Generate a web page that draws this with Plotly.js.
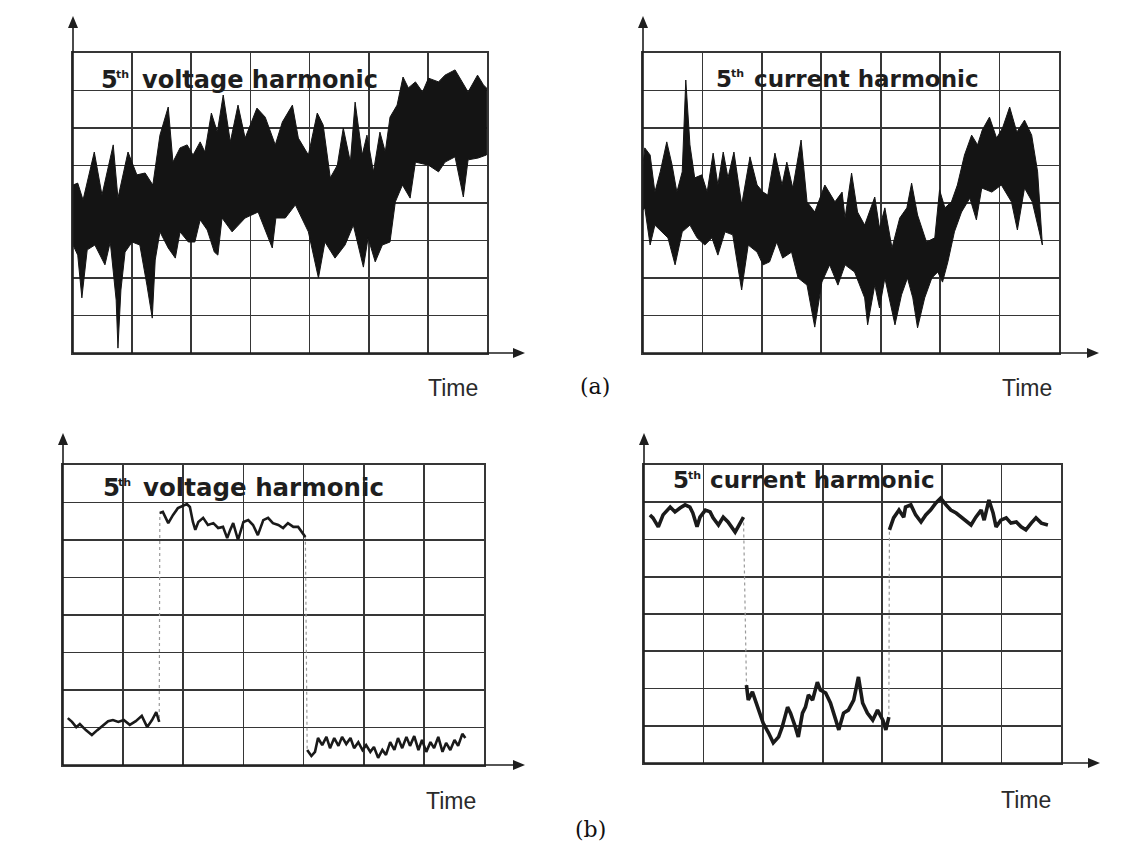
<!DOCTYPE html>
<html>
<head>
<meta charset="utf-8">
<script src="https://cdn.plot.ly/plotly-3.0.1.min.js"></script>
<style>
  html, body { margin: 0; padding: 0; background: #ffffff; }
  #chart { width: 1136px; height: 849px; }
</style>
</head>
<body>
<div id="chart"></div>
<script>
// ---------- DATA (grid units: time 0..7 divisions, amplitude 0..8 divisions) ----------
// (a) 5th voltage harmonic - envelope of the dense noisy record
const p1UpX = [0, 0.08, 0.17, 0.36, 0.49, 0.68, 0.76, 0.93, 1.08, 1.22, 1.35, 1.47, 1.61, 1.69, 1.81, 1.93, 2.03, 2.15, 2.23, 2.34, 2.44, 2.54, 2.66, 2.79, 2.91, 3.11, 3.25, 3.42, 3.54, 3.71, 3.81, 3.98, 4.13, 4.23, 4.35, 4.47, 4.57, 4.69, 4.77, 4.89, 4.97, 5.08, 5.19, 5.28, 5.36, 5.48, 5.58, 5.67, 5.79, 5.91, 6.01, 6.18, 6.29, 6.46, 6.58, 6.68, 6.84, 6.94, 6.99];
const p1UpY = [4.48, 4.53, 4.08, 5.36, 4.21, 5.55, 4.13, 5.36, 4.75, 4.8, 4.48, 5.81, 6.56, 5.09, 5.47, 5.55, 5.28, 5.63, 5.36, 6.4, 5.89, 6.88, 5.63, 6.61, 5.73, 6.53, 6.29, 5.55, 6.16, 6.61, 5.73, 5.28, 6.4, 6.08, 4.67, 5.01, 6.0, 5.09, 6.69, 5.28, 5.81, 4.83, 5.89, 5.36, 6.29, 6.61, 7.36, 7.07, 7.23, 6.96, 7.33, 7.23, 7.41, 7.55, 7.23, 6.96, 7.41, 7.15, 7.07];
const p1LoX = [0, 0.08, 0.15, 0.24, 0.37, 0.54, 0.63, 0.73, 0.76, 0.81, 0.88, 1.0, 1.13, 1.25, 1.34, 1.39, 1.47, 1.61, 1.73, 1.81, 1.95, 2.06, 2.15, 2.27, 2.39, 2.45, 2.52, 2.69, 2.91, 3.13, 3.37, 3.43, 3.59, 3.76, 3.98, 4.15, 4.26, 4.43, 4.6, 4.74, 4.91, 4.99, 5.11, 5.23, 5.36, 5.45, 5.57, 5.7, 5.79, 6.01, 6.18, 6.29, 6.46, 6.6, 6.68, 6.85, 6.99];
const p1LoY = [2.88, 2.61, 1.47, 2.75, 2.88, 2.35, 2.96, 1.41, 0.13, 1.68, 2.69, 2.96, 2.88, 1.81, 0.93, 2.48, 3.23, 2.8, 2.53, 3.23, 2.96, 2.96, 3.55, 3.28, 2.69, 2.61, 3.6, 3.23, 3.6, 3.76, 2.8, 3.6, 3.6, 3.95, 3.23, 2.0, 2.96, 2.53, 2.88, 3.41, 2.29, 3.07, 2.43, 2.88, 2.96, 4.03, 4.48, 4.13, 5.09, 5.01, 4.83, 5.09, 5.23, 4.16, 5.15, 5.2, 5.28];

// (a) 5th current harmonic - envelope
const p2UpX = [0, 0.03, 0.12, 0.2, 0.29, 0.4, 0.49, 0.57, 0.66, 0.72, 0.79, 0.87, 0.99, 1.08, 1.18, 1.26, 1.35, 1.43, 1.53, 1.66, 1.8, 1.92, 2.02, 2.1, 2.22, 2.34, 2.42, 2.52, 2.66, 2.76, 2.89, 3.06, 3.23, 3.35, 3.4, 3.51, 3.61, 3.73, 3.9, 3.98, 4.07, 4.19, 4.32, 4.44, 4.52, 4.62, 4.77, 4.91, 4.99, 5.08, 5.19, 5.29, 5.41, 5.53, 5.63, 5.71, 5.83, 5.95, 6.05, 6.17, 6.29, 6.42, 6.54, 6.64, 6.72];
const p2UpY = [5.01, 5.47, 5.28, 4.29, 4.83, 5.63, 5.01, 4.29, 4.83, 7.28, 5.55, 4.67, 4.75, 4.29, 5.33, 4.48, 5.36, 4.67, 5.36, 3.95, 5.23, 4.48, 4.29, 4.21, 5.33, 4.48, 5.09, 4.4, 5.68, 4.03, 3.76, 4.48, 4.03, 4.29, 3.6, 4.8, 3.76, 3.41, 4.16, 3.33, 3.87, 2.8, 3.6, 3.87, 4.53, 3.68, 2.96, 3.07, 4.35, 3.87, 4.03, 4.48, 5.28, 5.81, 5.55, 5.95, 6.29, 5.73, 6.0, 6.56, 5.89, 6.21, 5.81, 4.83, 2.88];
const p2LoX = [0, 0.03, 0.12, 0.2, 0.32, 0.42, 0.54, 0.66, 0.79, 0.91, 1.04, 1.16, 1.26, 1.38, 1.51, 1.66, 1.77, 1.92, 2.02, 2.13, 2.25, 2.35, 2.5, 2.61, 2.76, 2.89, 3.01, 3.14, 3.28, 3.4, 3.56, 3.73, 3.78, 3.9, 3.98, 4.07, 4.24, 4.35, 4.45, 4.54, 4.62, 4.74, 4.86, 4.96, 5.04, 5.13, 5.24, 5.36, 5.5, 5.61, 5.7, 5.87, 6.03, 6.2, 6.3, 6.42, 6.55, 6.67, 6.72];
const p2LoY = [3.81, 3.87, 2.88, 3.41, 3.23, 3.07, 2.35, 3.23, 3.41, 3.07, 2.88, 3.07, 2.61, 3.23, 3.15, 1.68, 2.88, 2.69, 2.35, 2.43, 2.96, 2.53, 2.69, 2.0, 1.81, 0.69, 1.89, 2.35, 1.81, 2.35, 2.16, 1.47, 0.75, 1.81, 1.2, 2.0, 0.75, 1.55, 2.0, 1.47, 0.67, 1.47, 2.0, 2.16, 1.89, 2.43, 3.23, 3.76, 4.13, 3.55, 4.4, 4.29, 4.48, 4.03, 3.28, 4.4, 4.03, 3.23, 2.88];

// (b) 5th voltage harmonic - step record
const p3X = [0.08, 0.15, 0.22, 0.28, 0.38, 0.48, 0.57, 0.67, 0.75, 0.83, 0.92, 1.01, 1.11, 1.21, 1.31, 1.40, 1.48, 1.55, 1.60,
             1.61, 1.66, 1.75, 1.83, 1.91, 2.06, 2.11, 2.16, 2.20, 2.25, 2.33, 2.41, 2.50, 2.58, 2.66, 2.73, 2.78, 2.83, 2.91, 3.00, 3.08, 3.16, 3.24, 3.33, 3.41, 3.49, 3.58, 3.66, 3.74, 3.83, 3.91, 3.98, 4.03,
             4.06, 4.13, 4.19, 4.24, 4.31, 4.38, 4.44, 4.51, 4.58, 4.64, 4.71, 4.78, 4.84, 4.91, 4.98, 5.04, 5.11, 5.17, 5.24, 5.31, 5.37, 5.44, 5.51, 5.57, 5.64, 5.71, 5.77, 5.84, 5.91, 5.97, 6.04, 6.11, 6.17, 6.24, 6.31, 6.37, 6.44, 6.51, 6.57, 6.64, 6.69];
const p3Y = [1.25, 1.15, 1.01, 1.09, 0.93, 0.80, 0.93, 1.07, 1.17, 1.20, 1.15, 1.20, 1.07, 1.17, 1.31, 1.01, 1.20, 1.41, 1.15,
             6.72, 6.75, 6.45, 6.67, 6.85, 6.96, 6.88, 6.48, 6.27, 6.48, 6.59, 6.40, 6.45, 6.32, 6.35, 6.05, 6.27, 6.45, 6.00, 6.48, 6.53, 6.40, 6.13, 6.53, 6.59, 6.45, 6.40, 6.32, 6.45, 6.35, 6.35, 6.19, 6.08,
             0.40, 0.24, 0.35, 0.72, 0.53, 0.75, 0.45, 0.72, 0.51, 0.75, 0.56, 0.72, 0.45, 0.61, 0.40, 0.53, 0.35, 0.48, 0.19, 0.40, 0.27, 0.61, 0.40, 0.72, 0.45, 0.75, 0.51, 0.77, 0.40, 0.67, 0.35, 0.61, 0.45, 0.75, 0.35, 0.59, 0.40, 0.67, 0.51, 0.83, 0.72];
const p3Segments = [[0, 18], [19, 51], [52, 92]];

// (b) 5th current harmonic - step record
const p4X = [0.10, 0.15, 0.24, 0.32, 0.44, 0.52, 0.61, 0.69, 0.77, 0.82, 0.89, 0.94, 1.03, 1.11, 1.16, 1.25, 1.33, 1.41, 1.53, 1.62, 1.67,
             1.72, 1.75, 1.82, 1.92, 2.00, 2.09, 2.17, 2.26, 2.32, 2.41, 2.46, 2.54, 2.59, 2.66, 2.71, 2.76, 2.83, 2.91, 2.96, 3.05, 3.13, 3.22, 3.27, 3.35, 3.43, 3.52, 3.60, 3.67, 3.75, 3.84, 3.92, 4.01, 4.06, 4.11,
             4.12, 4.19, 4.28, 4.36, 4.39, 4.48, 4.56, 4.65, 4.73, 4.81, 4.90, 4.98, 5.07, 5.15, 5.24, 5.32, 5.40, 5.49, 5.57, 5.66, 5.71, 5.79, 5.86, 5.91, 5.99, 6.08, 6.16, 6.25, 6.33, 6.41, 6.50, 6.58, 6.67, 6.78];
const p4Y = [6.66, 6.58, 6.34, 6.66, 6.87, 6.74, 6.85, 6.93, 6.87, 6.71, 6.34, 6.60, 6.79, 6.74, 6.58, 6.39, 6.60, 6.47, 6.20, 6.47, 6.60,
             2.09, 1.69, 1.91, 1.42, 1.07, 0.81, 0.54, 0.70, 0.97, 1.50, 1.34, 0.97, 0.70, 1.34, 1.50, 1.83, 1.69, 2.17, 1.96, 1.88, 1.61, 1.15, 0.89, 1.34, 1.42, 1.69, 2.31, 1.61, 1.34, 1.15, 1.42, 1.15, 0.89, 1.23,
             6.26, 6.58, 6.79, 6.60, 6.87, 6.93, 6.66, 6.47, 6.66, 6.79, 6.98, 7.11, 6.93, 6.79, 6.71, 6.60, 6.52, 6.39, 6.60, 6.79, 6.52, 7.06, 6.71, 6.34, 6.52, 6.58, 6.44, 6.47, 6.34, 6.26, 6.44, 6.58, 6.44, 6.39];
const p4Segments = [[0, 20], [21, 54], [55, 88]];

const panelTitleNum = "5";
const panelTitleSup = "th";
const panelTitleRest = ["voltage harmonic", "current harmonic", "voltage harmonic", "current harmonic"];
const axisLabel = "Time";
const groupLabels = ["(a)", "(b)"];

// ---------- LAYOUT HELPERS ----------
const W = 1136, H = 849;
const px = v => v / W;
const py = v => (H - v) / H;

// plot-area boxes (left, top, right, bottom) in page pixels
const boxes = [
  [73, 53, 487, 353],
  [643, 53, 1059, 353],
  [63, 465, 484, 765],
  [644, 465, 1061, 763]
];

const gridColor = '#363636';
function axes(i) {
  const b = boxes[i];
  const common = {
    showgrid: true, gridcolor: gridColor, gridwidth: 1.6,
    zeroline: false, showticklabels: false, ticks: '',
    showline: true, mirror: true, linecolor: gridColor, linewidth: 1.6,
    fixedrange: true, dtick: 1, tick0: 0
  };
  return {
    x: Object.assign({}, common, {domain: [px(b[0]), px(b[2])], range: [0, 7], anchor: 'y' + (i ? i + 1 : '')}),
    y: Object.assign({}, common, {domain: [py(b[3]), py(b[1])], range: [0, 8], anchor: 'x' + (i ? i + 1 : '')})
  };
}

function envelope(upX, upY, loX, loY, xa, ya) {
  return {
    type: 'scatter', mode: 'lines',
    x: upX.concat(loX.slice().reverse()),
    y: upY.concat(loY.slice().reverse()),
    fill: 'toself', fillcolor: '#141414',
    line: {color: '#141414', width: 1},
    xaxis: xa, yaxis: ya, hoverinfo: 'skip'
  };
}

function stepTraces(X, Y, segs, xa, ya, w) {
  const out = [{
    type: 'scatter', mode: 'lines', x: X, y: Y,
    line: {color: '#9a9a9a', width: 1.2, dash: 'dot'},
    xaxis: xa, yaxis: ya, hoverinfo: 'skip'
  }];
  segs.forEach(s => {
    out.push({
      type: 'scatter', mode: 'lines',
      x: X.slice(s[0], s[1] + 1), y: Y.slice(s[0], s[1] + 1),
      line: {color: '#1a1a1a', width: w},
      xaxis: xa, yaxis: ya, hoverinfo: 'skip'
    });
  });
  return out;
}

const data = [].concat(
  [envelope(p1UpX, p1UpY, p1LoX, p1LoY, 'x', 'y')],
  [envelope(p2UpX, p2UpY, p2LoX, p2LoY, 'x2', 'y2')],
  stepTraces(p3X, p3Y, p3Segments, 'x3', 'y3', 2.6),
  stepTraces(p4X, p4Y, p4Segments, 'x4', 'y4', 3.6)
);

const layout = {
  width: W, height: H,
  margin: {l: 0, r: 0, t: 0, b: 0},
  paper_bgcolor: '#ffffff', plot_bgcolor: 'rgba(0,0,0,0)',
  showlegend: false,
  annotations: [],
  shapes: [],
  font: {family: 'Liberation Sans, Arial, sans-serif', color: '#222'}
};
for (let i = 0; i < 4; i++) {
  const a = axes(i);
  const k = i ? i + 1 : '';
  a.x.title = {text: ''};
  a.y.title = {text: ''};
  layout['xaxis' + k] = a.x;
  layout['yaxis' + k] = a.y;
}

// axis arrows: origin, y-arrow tip, x-arrow tip (page px)
const arrowSpecs = [
  [73, 353, 16, 525],
  [643, 353, 16, 1099],
  [63, 765, 433, 525],
  [644, 763, 433, 1100]
];
const arrowColor = '#1e1e1e';
function pathOf(pts) {
  return 'M ' + pts.map(p => px(p[0]).toFixed(5) + ',' + py(p[1]).toFixed(5)).join(' L ') + ' Z';
}
arrowSpecs.forEach(s => {
  const ox = s[0], oy = s[1], yt = s[2], xt = s[3];
  layout.shapes.push({type: 'line', xref: 'paper', yref: 'paper', x0: px(ox), y0: py(oy), x1: px(ox), y1: py(yt + 10),
                      line: {color: arrowColor, width: 1.6}});
  layout.shapes.push({type: 'path', xref: 'paper', yref: 'paper',
                      path: pathOf([[ox, yt], [ox - 5, yt + 12], [ox + 5, yt + 12]]),
                      fillcolor: arrowColor, line: {width: 0}});
  layout.shapes.push({type: 'line', xref: 'paper', yref: 'paper', x0: px(ox), y0: py(oy), x1: px(xt - 10), y1: py(oy),
                      line: {color: arrowColor, width: 1.6}});
  layout.shapes.push({type: 'path', xref: 'paper', yref: 'paper',
                      path: pathOf([[xt, oy], [xt - 12, oy - 5], [xt - 12, oy + 5]]),
                      fillcolor: arrowColor, line: {width: 0}});
});

// panel titles: [x of "5", x of "th", x of rest, y centre, font size]
const titleSpec = [
  [99, 114, 140, 80, 24],
  [714, 729, 752, 79, 23],
  [101, 116, 141, 487, 24.5],
  [671, 686, 708, 480, 23]
];
const titleColor = '#1e1e1e';
titleSpec.forEach((t, i) => {
  const base = {xref: 'paper', yref: 'paper', xanchor: 'left', yanchor: 'middle', showarrow: false};
  layout.annotations.push(Object.assign({}, base, {
    x: px(t[0]), y: py(t[3]), text: '<b>' + panelTitleNum + '</b>',
    font: {family: 'DejaVu Sans, sans-serif', size: t[4], color: titleColor}
  }));
  layout.annotations.push(Object.assign({}, base, {
    x: px(t[1]), y: py(t[3] - 5), text: '<b>' + panelTitleSup + '</b>',
    font: {family: 'DejaVu Sans, sans-serif', size: 11, color: titleColor}
  }));
  layout.annotations.push(Object.assign({}, base, {
    x: px(t[2]), y: py(t[3]), text: '<b>' + panelTitleRest[i] + '</b>',
    font: {family: 'DejaVu Sans, sans-serif', size: t[4], color: titleColor}
  }));
});

// Time labels
const timePos = [[453, 388], [1027, 388], [451, 801], [1026, 800]];
timePos.forEach(p => {
  layout.annotations.push({
    xref: 'paper', yref: 'paper', x: px(p[0]), y: py(p[1]),
    xanchor: 'center', yanchor: 'middle', showarrow: false,
    text: axisLabel,
    font: {family: 'Liberation Sans, Arial, sans-serif', size: 23, color: '#2a2a2a'}
  });
});

// group labels
const groupPos = [[595, 386], [590, 829]];
groupPos.forEach((p, i) => {
  layout.annotations.push({
    xref: 'paper', yref: 'paper', x: px(p[0]), y: py(p[1]),
    xanchor: 'center', yanchor: 'middle', showarrow: false,
    text: groupLabels[i],
    font: {family: 'DejaVu Serif, Liberation Serif, serif', size: 22, color: '#111'}
  });
});

Plotly.newPlot('chart', data, layout, {staticPlot: true, displayModeBar: false});
</script>
</body>
</html>
